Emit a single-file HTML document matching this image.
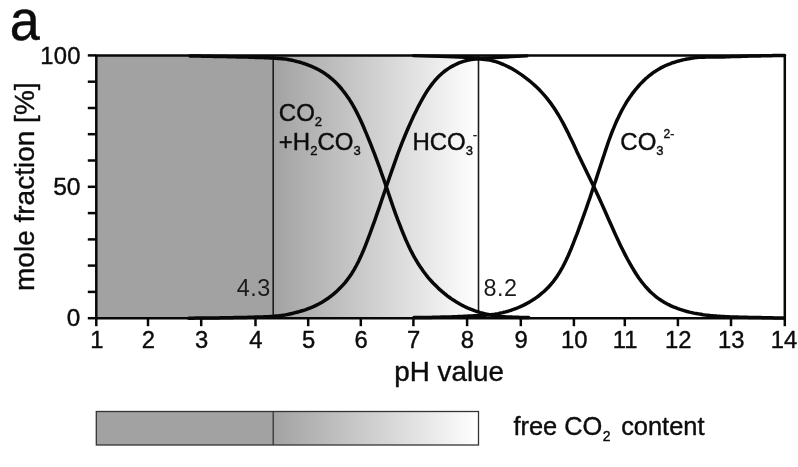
<!DOCTYPE html>
<html><head><meta charset="utf-8"><title>a</title><style>html,body{margin:0;padding:0;background:#fff;overflow:hidden}</style></head><body>
<svg width="798" height="467" viewBox="0 0 798 467" style="display:block">
<defs><linearGradient id="g" x1="0" x2="1" y1="0" y2="0"><stop offset="0" stop-color="#a2a2a2"/><stop offset="1" stop-color="#ffffff"/></linearGradient></defs>
<g>
<rect x="-5" y="-5" width="808" height="477" fill="#fff"/>
<rect x="96.3" y="55.4" width="177.4" height="262.8" fill="#a2a2a2"/>
<rect x="273.2" y="55.4" width="205.3" height="262.8" fill="url(#g)"/>
<line x1="273.2" y1="55.4" x2="273.2" y2="318.2" stroke="#1c1c1c" stroke-width="1.6"/>
<line x1="478.5" y1="55.4" x2="478.5" y2="312" stroke="#1c1c1c" stroke-width="1.6"/>
<path d="M96.3,55.4 H784.8 V318.2 H96.3 Z" fill="none" stroke="#080808" stroke-width="2.5"/>
<line x1="96.3" y1="318.2" x2="96.3" y2="326.2" stroke="#080808" stroke-width="2.5"/>
<line x1="148.0" y1="318.2" x2="148.0" y2="326.2" stroke="#080808" stroke-width="2.5"/>
<line x1="201.2" y1="318.2" x2="201.2" y2="326.2" stroke="#080808" stroke-width="2.5"/>
<line x1="255.5" y1="318.2" x2="255.5" y2="326.2" stroke="#080808" stroke-width="2.5"/>
<line x1="308.2" y1="318.2" x2="308.2" y2="326.2" stroke="#080808" stroke-width="2.5"/>
<line x1="360.8" y1="318.2" x2="360.8" y2="326.2" stroke="#080808" stroke-width="2.5"/>
<line x1="413.4" y1="318.2" x2="413.4" y2="326.2" stroke="#080808" stroke-width="2.5"/>
<line x1="467.1" y1="318.2" x2="467.1" y2="326.2" stroke="#080808" stroke-width="2.5"/>
<line x1="520.8" y1="318.2" x2="520.8" y2="326.2" stroke="#080808" stroke-width="2.5"/>
<line x1="573.9" y1="318.2" x2="573.9" y2="326.2" stroke="#080808" stroke-width="2.5"/>
<line x1="624.8" y1="318.2" x2="624.8" y2="326.2" stroke="#080808" stroke-width="2.5"/>
<line x1="677.9" y1="318.2" x2="677.9" y2="326.2" stroke="#080808" stroke-width="2.5"/>
<line x1="731.0" y1="318.2" x2="731.0" y2="326.2" stroke="#080808" stroke-width="2.5"/>
<line x1="784.8" y1="318.2" x2="784.8" y2="326.2" stroke="#080808" stroke-width="2.5"/>
<line x1="87.8" y1="318.2" x2="96.3" y2="318.2" stroke="#080808" stroke-width="2.5"/>
<line x1="87.8" y1="291.9" x2="96.3" y2="291.9" stroke="#080808" stroke-width="2.5"/>
<line x1="87.8" y1="265.6" x2="96.3" y2="265.6" stroke="#080808" stroke-width="2.5"/>
<line x1="87.8" y1="239.4" x2="96.3" y2="239.4" stroke="#080808" stroke-width="2.5"/>
<line x1="87.8" y1="213.1" x2="96.3" y2="213.1" stroke="#080808" stroke-width="2.5"/>
<line x1="87.8" y1="186.8" x2="96.3" y2="186.8" stroke="#080808" stroke-width="2.5"/>
<line x1="87.8" y1="160.5" x2="96.3" y2="160.5" stroke="#080808" stroke-width="2.5"/>
<line x1="87.8" y1="134.2" x2="96.3" y2="134.2" stroke="#080808" stroke-width="2.5"/>
<line x1="87.8" y1="108.0" x2="96.3" y2="108.0" stroke="#080808" stroke-width="2.5"/>
<line x1="87.8" y1="81.7" x2="96.3" y2="81.7" stroke="#080808" stroke-width="2.5"/>
<line x1="87.8" y1="55.4" x2="96.3" y2="55.4" stroke="#080808" stroke-width="2.5"/>
<path d="M190.0,56.0 L191.3,56.0 L192.6,56.0 L193.9,56.1 L195.2,56.1 L196.5,56.1 L197.8,56.1 L199.2,56.1 L200.5,56.1 L201.8,56.2 L203.1,56.2 L204.4,56.2 L205.7,56.2 L207.0,56.2 L208.3,56.3 L209.6,56.3 L210.9,56.3 L212.2,56.3 L213.5,56.4 L214.8,56.4 L216.2,56.4 L217.5,56.4 L218.8,56.5 L220.1,56.5 L221.4,56.5 L222.7,56.5 L224.0,56.6 L225.3,56.6 L226.6,56.6 L227.9,56.7 L229.2,56.7 L230.5,56.7 L231.9,56.7 L233.2,56.8 L234.5,56.8 L235.8,56.8 L237.1,56.9 L238.4,56.9 L239.7,56.9 L241.0,57.0 L242.3,57.0 L243.6,57.0 L244.9,57.1 L246.2,57.1 L247.5,57.1 L248.9,57.2 L250.2,57.2 L251.5,57.2 L252.8,57.3 L254.1,57.3 L255.4,57.4 L256.7,57.4 L258.0,57.4 L259.3,57.5 L260.6,57.5 L261.9,57.6 L263.2,57.6 L264.5,57.7 L265.9,57.7 L267.2,57.8 L268.5,57.8 L269.8,57.9 L271.1,58.0 L272.4,58.0 L273.7,58.1 L275.0,58.2 L276.3,58.3 L277.6,58.4 L278.9,58.4 L280.2,58.6 L281.5,58.7 L282.9,58.8 L284.2,58.9 L285.5,59.1 L286.8,59.3 L288.1,59.5 L289.4,59.8 L290.7,60.0 L292.0,60.3 L293.3,60.6 L294.6,60.9 L295.9,61.3 L297.2,61.6 L298.5,61.9 L299.9,62.3 L301.2,62.7 L302.5,63.1 L303.8,63.5 L305.1,63.9 L306.4,64.4 L307.7,64.9 L309.0,65.4 L310.3,65.9 L311.6,66.4 L312.9,67.0 L314.2,67.6 L315.6,68.2 L316.9,68.9 L318.2,69.5 L319.5,70.2 L320.8,71.0 L322.1,71.8 L323.4,72.6 L324.7,73.4 L326.0,74.3 L327.3,75.3 L328.6,76.2 L329.9,77.3 L331.2,78.4 L332.6,79.5 L333.9,80.7 L335.2,81.9 L336.5,83.3 L337.8,84.6 L339.1,86.0 L340.4,87.5 L341.7,89.0 L343.0,90.7 L344.3,92.4 L345.6,94.1 L346.9,95.9 L348.2,97.8 L349.6,99.8 L350.9,101.9 L352.2,104.0 L353.5,106.3 L354.8,108.6 L356.1,111.1 L357.4,113.6 L358.7,116.2 L360.0,119.0 L361.3,121.8 L362.6,124.8 L363.9,127.8 L365.2,130.9 L366.6,134.1 L367.9,137.3 L369.2,140.5 L370.5,143.7 L371.8,147.0 L373.1,150.4 L374.4,153.7 L375.7,157.1 L377.0,160.6 L378.3,164.1 L379.6,167.7 L380.9,171.4 L382.2,175.2 L383.6,179.0 L384.9,182.8 L386.2,186.6 L387.5,190.4 L388.8,194.3 L390.1,198.1 L391.4,201.9 L392.7,205.7 L394.0,209.4 L395.3,213.1 L396.6,216.7 L397.9,220.2 L399.3,223.7 L400.6,227.0 L401.9,230.3 L403.2,233.5 L404.5,236.6 L405.8,239.7 L407.1,242.6 L408.4,245.4 L409.7,248.2 L411.0,250.9 L412.3,253.4 L413.6,255.9 L414.9,258.2 L416.3,260.5 L417.6,262.7 L418.9,264.7 L420.2,266.7 L421.5,268.6 L422.8,270.5 L424.1,272.3 L425.4,274.0 L426.7,275.7 L428.0,277.3 L429.3,278.8 L430.6,280.3 L431.9,281.7 L433.3,283.2 L434.6,284.5 L435.9,285.8 L437.2,287.1 L438.5,288.4 L439.8,289.6 L441.1,290.7 L442.4,291.8 L443.7,292.9 L445.0,294.0 L446.3,295.0 L447.6,296.1 L448.9,297.0 L450.3,298.0 L451.6,298.9 L452.9,299.7 L454.2,300.6 L455.5,301.4 L456.8,302.3 L458.1,303.0 L459.4,303.8 L460.7,304.5 L462.0,305.2 L463.3,305.9 L464.6,306.5 L465.9,307.2 L467.3,307.8 L468.6,308.3 L469.9,308.9 L471.2,309.4 L472.5,309.9 L473.8,310.4 L475.1,310.9 L476.4,311.3 L477.7,311.8 L479.0,312.2 L480.3,312.6 L481.6,312.9 L483.0,313.3 L484.3,313.6 L485.6,314.0 L486.9,314.2 L488.2,314.5 L489.5,314.8 L490.8,315.1 L492.1,315.4 L493.4,315.6 L494.7,315.9 L496.0,316.1 L497.3,316.3 L498.6,316.4 L500.0,316.5 L501.3,316.6 L502.6,316.7 L503.9,316.7 L505.2,316.8 L506.5,316.9 L507.8,316.9 L509.1,317.0 L510.4,317.1 L511.7,317.1 L513.0,317.2 L514.3,317.2 L515.6,317.3 L517.0,317.3 L518.3,317.3 L519.6,317.4 L520.9,317.4 L522.2,317.4 L523.5,317.4 L524.8,317.5 L526.1,317.5 L527.4,317.5 L528.7,317.5" fill="none" stroke="#080808" stroke-width="3.5" stroke-linejoin="round" stroke-linecap="round"/>
<path d="M188.8,318.2 L191.1,318.2 L193.4,318.2 L195.7,318.1 L198.0,318.1 L200.3,318.1 L202.6,318.1 L204.9,318.1 L207.2,318.0 L209.5,318.0 L211.8,318.0 L214.1,317.9 L216.4,317.9 L218.6,317.9 L220.9,317.8 L223.2,317.8 L225.5,317.8 L227.8,317.7 L230.1,317.7 L232.4,317.7 L234.7,317.6 L237.0,317.6 L239.3,317.5 L241.6,317.5 L243.9,317.4 L246.2,317.4 L248.5,317.3 L250.8,317.3 L253.1,317.2 L255.4,317.1 L257.7,317.1 L260.0,317.0 L262.3,316.9 L264.6,316.8 L266.9,316.7 L269.2,316.6 L271.5,316.4 L273.8,316.3 L276.1,316.1 L278.3,315.9 L280.6,315.6 L282.9,315.2 L285.2,314.9 L287.5,314.5 L289.8,314.0 L292.1,313.5 L294.4,312.9 L296.7,312.3 L299.0,311.7 L301.3,311.0 L303.6,310.3 L305.9,309.6 L308.2,308.7 L310.5,307.8 L312.8,306.9 L315.1,305.8 L317.4,304.7 L319.7,303.5 L322.0,302.2 L324.3,300.8 L326.6,299.3 L328.9,297.7 L331.2,296.0 L333.5,294.1 L335.8,292.2 L338.0,290.1 L340.3,287.8 L342.6,285.4 L344.9,282.8 L347.2,279.9 L349.5,276.8 L351.8,273.4 L354.1,269.6 L356.4,265.5 L358.7,261.0 L361.0,256.1 L363.3,250.8 L365.6,245.1 L367.9,239.2 L370.2,233.0 L372.5,226.7 L374.8,220.3 L377.1,213.7 L379.4,207.1 L381.7,200.3 L384.0,193.5 L386.3,186.7 L388.6,180.0 L390.9,173.4 L393.2,166.8 L395.5,160.4 L397.7,154.1 L400.0,148.1 L402.3,142.2 L404.6,136.5 L406.9,131.0 L409.2,125.7 L411.5,120.6 L413.8,115.6 L416.1,110.9 L418.4,106.3 L420.7,102.0 L423.0,97.8 L425.3,93.9 L427.6,90.3 L429.9,87.0 L432.2,83.9 L434.5,81.0 L436.8,78.4 L439.1,76.1 L441.4,73.9 L443.7,72.0 L446.0,70.2 L448.3,68.6 L450.6,67.1 L452.9,65.9 L455.2,64.7 L457.4,63.6 L459.7,62.6 L462.0,61.8 L464.3,61.1 L466.6,60.5 L468.9,59.9 L471.2,59.6 L473.5,59.3 L475.8,59.1 L478.1,59.0 L480.4,59.0 L482.7,59.2 L485.0,59.5 L487.3,59.8 L489.6,60.1 L491.9,60.6 L494.2,61.2 L496.5,61.9 L498.8,62.7 L501.1,63.6 L503.4,64.5 L505.7,65.5 L508.0,66.7 L510.3,67.8 L512.6,69.1 L514.9,70.4 L517.1,71.9 L519.4,73.4 L521.7,74.9 L524.0,76.6 L526.3,78.3 L528.6,80.1 L530.9,82.0 L533.2,84.0 L535.5,86.1 L537.8,88.3 L540.1,90.6 L542.4,93.1 L544.7,95.7 L547.0,98.4 L549.3,101.4 L551.6,104.4 L553.9,107.8 L556.2,111.3 L558.5,115.0 L560.8,119.0 L563.1,123.2 L565.4,127.6 L567.7,132.1 L570.0,136.9 L572.3,141.6 L574.6,146.5 L576.8,151.4 L579.1,156.2 L581.4,161.0 L583.7,165.7 L586.0,170.5 L588.3,175.2 L590.6,180.0 L592.9,184.8 L595.2,189.6 L597.5,194.5 L599.8,199.5 L602.1,204.6 L604.4,209.8 L606.7,215.0 L609.0,220.2 L611.3,225.3 L613.6,230.5 L615.9,235.6 L618.2,240.6 L620.5,245.4 L622.8,250.1 L625.1,254.6 L627.4,259.0 L629.7,263.1 L632.0,267.2 L634.3,271.0 L636.5,274.5 L638.8,277.9 L641.1,281.1 L643.4,284.0 L645.7,286.8 L648.0,289.3 L650.3,291.7 L652.6,293.8 L654.9,295.8 L657.2,297.6 L659.5,299.3 L661.8,300.8 L664.1,302.2 L666.4,303.5 L668.7,304.7 L671.0,305.8 L673.3,306.8 L675.6,307.7 L677.9,308.6 L680.2,309.4 L682.5,310.1 L684.8,310.8 L687.1,311.5 L689.4,312.1 L691.7,312.6 L694.0,313.1 L696.2,313.5 L698.5,313.9 L700.8,314.3 L703.1,314.7 L705.4,315.0 L707.7,315.2 L710.0,315.5 L712.3,315.7 L714.6,315.9 L716.9,316.1 L719.2,316.2 L721.5,316.4 L723.8,316.5 L726.1,316.7 L728.4,316.8 L730.7,316.9 L733.0,316.9 L735.3,317.0 L737.6,317.1 L739.9,317.2 L742.2,317.2 L744.5,317.3 L746.8,317.3 L749.1,317.4 L751.4,317.4 L753.7,317.5 L755.9,317.5 L758.2,317.6 L760.5,317.6 L762.8,317.7 L765.1,317.7 L767.4,317.8 L769.7,317.8 L772.0,317.8 L774.3,317.9 L776.6,317.9 L778.9,317.9 L781.2,318.0 L783.5,318.0" fill="none" stroke="#080808" stroke-width="3.5" stroke-linejoin="round" stroke-linecap="round"/>
<path d="M414.0,317.6 L415.4,317.6 L416.9,317.6 L418.3,317.6 L419.7,317.6 L421.2,317.5 L422.6,317.5 L424.0,317.5 L425.4,317.5 L426.9,317.5 L428.3,317.4 L429.7,317.4 L431.2,317.4 L432.6,317.3 L434.0,317.3 L435.5,317.3 L436.9,317.2 L438.3,317.2 L439.7,317.2 L441.2,317.1 L442.6,317.1 L444.0,317.1 L445.5,317.0 L446.9,317.0 L448.3,316.9 L449.8,316.9 L451.2,316.9 L452.6,316.8 L454.1,316.8 L455.5,316.7 L456.9,316.7 L458.3,316.6 L459.8,316.5 L461.2,316.5 L462.6,316.4 L464.1,316.3 L465.5,316.3 L466.9,316.2 L468.4,316.1 L469.8,316.1 L471.2,316.0 L472.7,315.9 L474.1,315.8 L475.5,315.7 L476.9,315.7 L478.4,315.6 L479.8,315.5 L481.2,315.4 L482.7,315.3 L484.1,315.2 L485.5,315.2 L487.0,315.1 L488.4,314.9 L489.8,314.8 L491.2,314.7 L492.7,314.5 L494.1,314.4 L495.5,314.1 L497.0,313.9 L498.4,313.6 L499.8,313.2 L501.3,312.9 L502.7,312.6 L504.1,312.2 L505.6,311.9 L507.0,311.5 L508.4,311.1 L509.8,310.6 L511.3,310.2 L512.7,309.7 L514.1,309.2 L515.6,308.6 L517.0,308.1 L518.4,307.5 L519.9,306.9 L521.3,306.2 L522.7,305.6 L524.1,304.9 L525.6,304.1 L527.0,303.4 L528.4,302.6 L529.9,301.8 L531.3,300.9 L532.7,300.0 L534.2,299.1 L535.6,298.1 L537.0,297.1 L538.5,296.0 L539.9,294.9 L541.3,293.7 L542.7,292.5 L544.2,291.3 L545.6,289.9 L547.0,288.5 L548.5,287.1 L549.9,285.5 L551.3,283.9 L552.8,282.2 L554.2,280.3 L555.6,278.4 L557.1,276.3 L558.5,274.1 L559.9,271.8 L561.3,269.4 L562.8,266.8 L564.2,264.0 L565.6,261.2 L567.1,258.1 L568.5,255.0 L569.9,251.6 L571.4,248.2 L572.8,244.7 L574.2,241.0 L575.6,237.3 L577.1,233.6 L578.5,229.8 L579.9,225.9 L581.4,222.0 L582.8,218.0 L584.2,214.1 L585.7,210.0 L587.1,205.9 L588.5,201.8 L590.0,197.6 L591.4,193.3 L592.8,189.1 L594.2,184.8 L595.7,180.5 L597.1,176.1 L598.5,171.7 L600.0,167.3 L601.4,163.0 L602.8,158.6 L604.3,154.2 L605.7,149.9 L607.1,145.7 L608.5,141.5 L610.0,137.5 L611.4,133.7 L612.8,130.1 L614.3,126.6 L615.7,123.2 L617.1,120.0 L618.6,116.9 L620.0,114.0 L621.4,111.2 L622.9,108.5 L624.3,106.0 L625.7,103.6 L627.1,101.2 L628.6,99.0 L630.0,96.9 L631.4,94.9 L632.9,92.9 L634.3,91.1 L635.7,89.3 L637.2,87.6 L638.6,86.0 L640.0,84.4 L641.4,82.9 L642.9,81.4 L644.3,80.1 L645.7,78.7 L647.2,77.5 L648.6,76.2 L650.0,75.1 L651.5,74.0 L652.9,72.9 L654.3,71.9 L655.8,71.0 L657.2,70.1 L658.6,69.2 L660.0,68.4 L661.5,67.6 L662.9,66.9 L664.3,66.2 L665.8,65.5 L667.2,64.9 L668.6,64.3 L670.1,63.8 L671.5,63.2 L672.9,62.7 L674.4,62.3 L675.8,61.8 L677.2,61.4 L678.6,61.0 L680.1,60.6 L681.5,60.3 L682.9,59.9 L684.4,59.6 L685.8,59.3 L687.2,59.0 L688.7,58.8 L690.1,58.5 L691.5,58.3 L692.9,58.1 L694.4,57.8 L695.8,57.6 L697.2,57.4 L698.7,57.3 L700.1,57.3 L701.5,57.2 L703.0,57.2 L704.4,57.2 L705.8,57.1 L707.3,57.1 L708.7,57.1 L710.1,57.1 L711.5,57.1 L713.0,57.1 L714.4,57.1 L715.8,57.1 L717.3,57.0 L718.7,57.0 L720.1,57.0 L721.6,56.9 L723.0,56.9 L724.4,56.9 L725.8,56.8 L727.3,56.8 L728.7,56.7 L730.1,56.7 L731.6,56.6 L733.0,56.6 L734.4,56.5 L735.9,56.5 L737.3,56.4 L738.7,56.4 L740.2,56.4 L741.6,56.3 L743.0,56.3 L744.4,56.2 L745.9,56.2 L747.3,56.2 L748.7,56.1 L750.2,56.1 L751.6,56.1 L753.0,56.0 L754.5,56.0 L755.9,56.0 L757.3,55.9 L758.8,55.9 L760.2,55.9 L761.6,55.8 L763.0,55.8 L764.5,55.8 L765.9,55.8 L767.3,55.7 L768.8,55.7 L770.2,55.7 L771.6,55.7 L773.1,55.6 L774.5,55.6 L775.9,55.6 L777.3,55.6 L778.8,55.6 L780.2,55.5 L781.6,55.5 L783.1,55.5 L784.5,55.5" fill="none" stroke="#080808" stroke-width="3.5" stroke-linejoin="round" stroke-linecap="round"/>
<path d="M413.5,55.6 C417.9,55.7 431.4,56.1 440.0,56.4 C448.6,56.7 458.2,57.1 465.0,57.4 C471.8,57.7 475.2,58.0 481.0,58.0 C486.8,58.0 492.3,57.8 500.0,57.4 C507.7,57.0 522.5,56.1 527.0,55.8" fill="none" stroke="#080808" stroke-width="3.2" stroke-linecap="round"/>
<rect x="96.3" y="411.5" width="177.4" height="33.5" fill="#a2a2a2"/>
<rect x="273.2" y="411.5" width="205.3" height="33.5" fill="url(#g)"/>
<rect x="96.3" y="411.5" width="382.2" height="33.5" fill="none" stroke="#333" stroke-width="1.3"/>
<line x1="273.2" y1="411.5" x2="273.2" y2="445.0" stroke="#333" stroke-width="1.3"/>
<text transform="translate(9.7,39.7) scale(1,1.05)" font-size="54" font-family="Liberation Sans, Arial, sans-serif" fill="#0c0c0c" stroke="#0c0c0c" stroke-width="0.4" stroke-linejoin="round">a</text>
<text x="96.9" y="348.4" font-size="23.8" text-anchor="middle" font-family="Liberation Sans, Arial, sans-serif" fill="#0c0c0c" stroke="#0c0c0c" stroke-width="0.4" stroke-linejoin="round">1</text>
<text x="148.3" y="348.4" font-size="23.8" text-anchor="middle" font-family="Liberation Sans, Arial, sans-serif" fill="#0c0c0c" stroke="#0c0c0c" stroke-width="0.4" stroke-linejoin="round">2</text>
<text x="201.5" y="348.4" font-size="23.8" text-anchor="middle" font-family="Liberation Sans, Arial, sans-serif" fill="#0c0c0c" stroke="#0c0c0c" stroke-width="0.4" stroke-linejoin="round">3</text>
<text x="255.8" y="348.4" font-size="23.8" text-anchor="middle" font-family="Liberation Sans, Arial, sans-serif" fill="#0c0c0c" stroke="#0c0c0c" stroke-width="0.4" stroke-linejoin="round">4</text>
<text x="308.5" y="348.4" font-size="23.8" text-anchor="middle" font-family="Liberation Sans, Arial, sans-serif" fill="#0c0c0c" stroke="#0c0c0c" stroke-width="0.4" stroke-linejoin="round">5</text>
<text x="361.1" y="348.4" font-size="23.8" text-anchor="middle" font-family="Liberation Sans, Arial, sans-serif" fill="#0c0c0c" stroke="#0c0c0c" stroke-width="0.4" stroke-linejoin="round">6</text>
<text x="413.7" y="348.4" font-size="23.8" text-anchor="middle" font-family="Liberation Sans, Arial, sans-serif" fill="#0c0c0c" stroke="#0c0c0c" stroke-width="0.4" stroke-linejoin="round">7</text>
<text x="467.4" y="348.4" font-size="23.8" text-anchor="middle" font-family="Liberation Sans, Arial, sans-serif" fill="#0c0c0c" stroke="#0c0c0c" stroke-width="0.4" stroke-linejoin="round">8</text>
<text x="521.1" y="348.4" font-size="23.8" text-anchor="middle" font-family="Liberation Sans, Arial, sans-serif" fill="#0c0c0c" stroke="#0c0c0c" stroke-width="0.4" stroke-linejoin="round">9</text>
<text x="574.2" y="348.4" font-size="23.8" text-anchor="middle" font-family="Liberation Sans, Arial, sans-serif" fill="#0c0c0c" stroke="#0c0c0c" stroke-width="0.4" stroke-linejoin="round">10</text>
<text x="625.1" y="348.4" font-size="23.8" text-anchor="middle" font-family="Liberation Sans, Arial, sans-serif" fill="#0c0c0c" stroke="#0c0c0c" stroke-width="0.4" stroke-linejoin="round">11</text>
<text x="678.2" y="348.4" font-size="23.8" text-anchor="middle" font-family="Liberation Sans, Arial, sans-serif" fill="#0c0c0c" stroke="#0c0c0c" stroke-width="0.4" stroke-linejoin="round">12</text>
<text x="731.3" y="348.4" font-size="23.8" text-anchor="middle" font-family="Liberation Sans, Arial, sans-serif" fill="#0c0c0c" stroke="#0c0c0c" stroke-width="0.4" stroke-linejoin="round">13</text>
<text x="784.0" y="348.4" font-size="23.8" text-anchor="middle" font-family="Liberation Sans, Arial, sans-serif" fill="#0c0c0c" stroke="#0c0c0c" stroke-width="0.4" stroke-linejoin="round">14</text>
<text x="80.8" y="64.1" font-size="23.8" letter-spacing="0.3" text-anchor="end" font-family="Liberation Sans, Arial, sans-serif" fill="#0c0c0c" stroke="#0c0c0c" stroke-width="0.4" stroke-linejoin="round">100</text>
<text x="80.5" y="195.1" font-size="24.6" text-anchor="end" font-family="Liberation Sans, Arial, sans-serif" fill="#0c0c0c" stroke="#0c0c0c" stroke-width="0.4" stroke-linejoin="round">50</text>
<text x="80.3" y="326.4" font-size="24.3" text-anchor="end" font-family="Liberation Sans, Arial, sans-serif" fill="#0c0c0c" stroke="#0c0c0c" stroke-width="0.4" stroke-linejoin="round">0</text>
<text transform="translate(34,186.7) rotate(-90)" font-size="28" text-anchor="middle" font-family="Liberation Sans, Arial, sans-serif" fill="#0c0c0c" stroke="#0c0c0c" stroke-width="0.4" stroke-linejoin="round">mole fraction [%]</text>
<text x="449.2" y="380.5" font-size="27.8" text-anchor="middle" font-family="Liberation Sans, Arial, sans-serif" fill="#0c0c0c" stroke="#0c0c0c" stroke-width="0.4" stroke-linejoin="round">pH value</text>
<text x="513.4" y="434.8" font-size="25.4" font-family="Liberation Sans, Arial, sans-serif" fill="#0c0c0c" stroke="#0c0c0c" stroke-width="0.4" stroke-linejoin="round">free CO<tspan font-size="14" dy="6" dx="0.5">2</tspan><tspan dy="-6" dx="3.5"> content</tspan></text>
<text x="236.8" y="296.2" font-size="23.4" letter-spacing="0.5" font-family="Liberation Sans, Arial, sans-serif" fill="#1a1a1a">4.3</text>
<text x="483.4" y="296.2" font-size="23.4" letter-spacing="0.5" font-family="Liberation Sans, Arial, sans-serif" fill="#1a1a1a">8.2</text>
<text x="278.8" y="121.3" font-size="24" font-family="Liberation Sans, Arial, sans-serif" fill="#0c0c0c" stroke="#0c0c0c" stroke-width="0.4" stroke-linejoin="round">CO<tspan font-size="13" dy="4.8">2</tspan></text>
<text x="278.8" y="149.7" font-size="24" font-family="Liberation Sans, Arial, sans-serif" fill="#0c0c0c" stroke="#0c0c0c" stroke-width="0.4" stroke-linejoin="round">+H<tspan font-size="13" dy="5">2</tspan><tspan dy="-5">CO</tspan><tspan font-size="13" dy="5">3</tspan></text>
<text x="412.4" y="149.8" font-size="24" font-family="Liberation Sans, Arial, sans-serif" fill="#0c0c0c" stroke="#0c0c0c" stroke-width="0.4" stroke-linejoin="round">HCO<tspan font-size="13" dy="5.2">3</tspan><tspan font-size="12" dy="-16">-</tspan></text>
<text x="620.3" y="150" font-size="24" font-family="Liberation Sans, Arial, sans-serif" fill="#0c0c0c" stroke="#0c0c0c" stroke-width="0.4" stroke-linejoin="round">CO<tspan font-size="13" dy="5.2">3</tspan><tspan font-size="12" dy="-17.7">2-</tspan></text>
</g></svg>
</body></html>
